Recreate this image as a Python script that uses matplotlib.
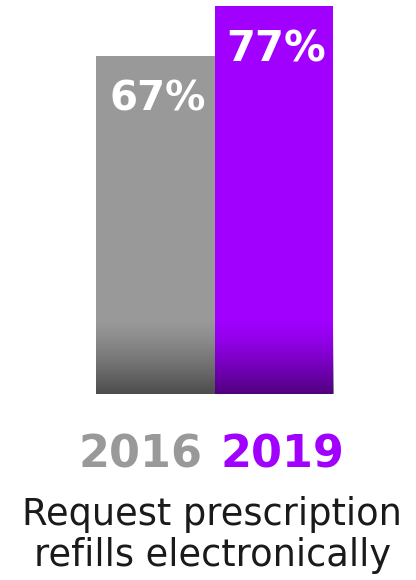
import numpy as np
import matplotlib
matplotlib.use("Agg")
import matplotlib.pyplot as plt

years = ["2016", "2019"]
values = [67, 77]
colors = ["#999999", "#a100ff"]
caption = ["Request prescription", "refills electronically"]

fig = plt.figure(figsize=(4.16, 5.80), dpi=100)
ax = fig.add_axes([96/416, 186/580, 237/416, 388/580])

bars = ax.bar(range(len(values)), values, width=1.0, color=colors)
ax.set_xlim(-0.5, len(values) - 0.5)
ax.set_ylim(0, max(values))
ax.axis("off")

# dark shading near the bottom of each bar
grad = np.zeros((64, 1, 4))
grad[:, 0, 3] = 0.5 * np.linspace(1.0, 0.0, 64) ** 1.3
for b in bars:
    x0 = b.get_x()
    im = ax.imshow(grad, extent=(x0, x0 + b.get_width(), 0, 15),
                   origin="lower", aspect="auto", zorder=3)
    im.set_clip_path(b)

sizes = [29, 30]
for i, v in enumerate(values):
    ax.text(i + 0.02, v - 8.6, f"{v}%", ha="center", va="center",
            color="white", fontsize=sizes[i], fontweight="bold", zorder=4)

fig.text(202/416, (580-467)/580, years[0], ha="right", va="baseline",
         color=colors[0], fontsize=32, fontweight="bold")
fig.text(221/416, (580-467)/580, years[1], ha="left", va="baseline",
         color=colors[1], fontsize=32, fontweight="bold")

fig.text(0.51, (580-525)/580, caption[0], ha="center", va="baseline",
         color="#1a1a1a", fontsize=26.5)
fig.text(0.51, (580-566)/580, caption[1], ha="center", va="baseline",
         color="#1a1a1a", fontsize=26.5)

fig.savefig("out.png", dpi=100)
